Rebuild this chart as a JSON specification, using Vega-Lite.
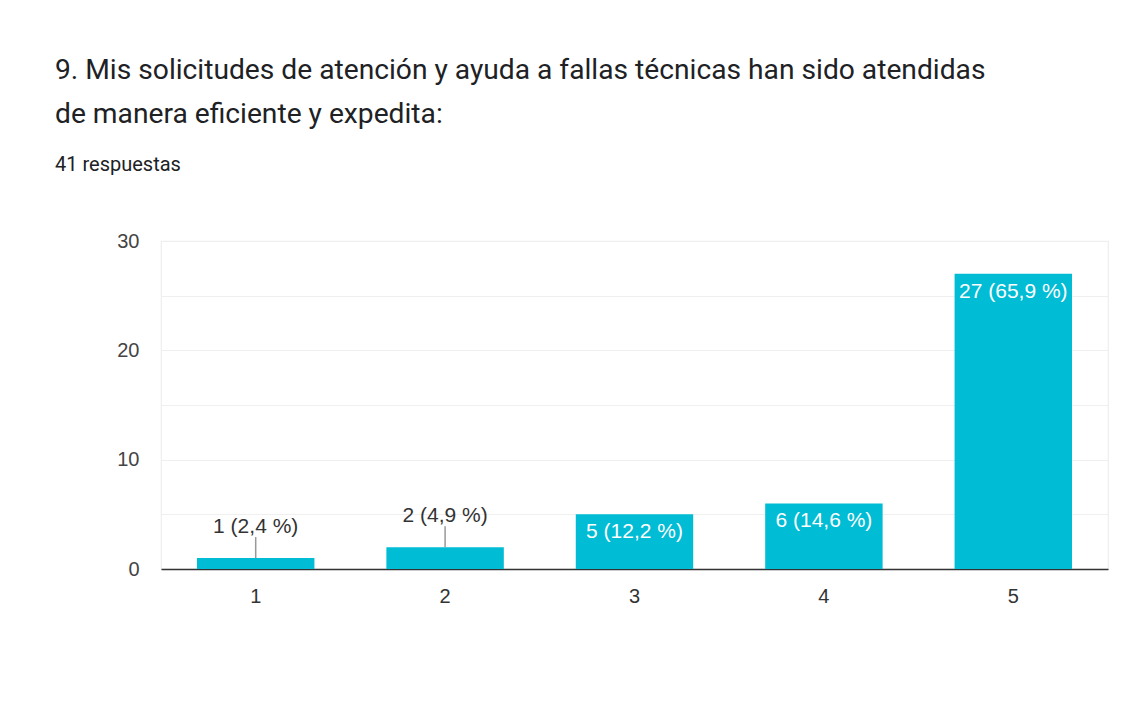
{
  "$schema": "https://vega.github.io/schema/vega-lite/v6.json",
  "autosize": "none",
  "width": 947,
  "height": 328,
  "padding": {"left": 161, "top": 241, "right": 23, "bottom": 133},
  "background": "white",
  "title": {
    "text": ["9. Mis solicitudes de atención y ayuda a fallas técnicas han sido atendidas", "de manera eficiente y expedita:"],
    "subtitle": "41 respuestas",
    "anchor": "start",
    "frame": "group",
    "dx": -106,
    "offset": 55,
    "font": "Roboto",
    "fontSize": 28.2,
    "fontWeight": "normal",
    "color": "#202124",
    "lineHeight": 44,
    "subtitleFont": "Roboto",
    "subtitleFontSize": 20,
    "subtitleColor": "#202124",
    "subtitlePadding": 26
  },
  "data": {
    "values": [
      {"option": "1", "count": 1, "label": "1 (2,4 %)"},
      {"option": "2", "count": 2, "label": "2 (4,9 %)"},
      {"option": "3", "count": 5, "label": "5 (12,2 %)"},
      {"option": "4", "count": 6, "label": "6 (14,6 %)"},
      {"option": "5", "count": 27, "label": "27 (65,9 %)"}
    ]
  },
  "encoding": {
    "x": {
      "field": "option", "type": "nominal", "sort": null,
      "scale": {"paddingInner": 0.38, "paddingOuter": 0.19},
      "axis": {
        "title": null, "labelAngle": 0, "ticks": false, "grid": false,
        "domainColor": "#333333", "domainWidth": 1.5,
        "labelFont": "Liberation Sans", "labelFontSize": 20, "labelColor": "#333333",
        "labelPadding": 17
      }
    },
    "y": {
      "field": "count", "type": "quantitative",
      "scale": {"domain": [0, 30], "nice": false},
      "axis": {
        "title": null, "values": [0, 5, 10, 15, 20, 25, 30],
        "labelExpr": "datum.value % 10 === 0 ? datum.label : ''",
        "domain": false, "ticks": false, "gridColor": "#efefef", "gridWidth": 1.2,
        "labelFont": "Liberation Sans", "labelFontSize": 20, "labelColor": "#444444",
        "labelPadding": 22
      }
    }
  },
  "layer": [
    {"mark": {"type": "bar", "color": "#00BCD4"}},
    {
      "transform": [{"filter": "datum.count < 5"}],
      "mark": {"type": "rule", "color": "#999999", "strokeWidth": 1.5, "y2Offset": -21},
      "encoding": {"y2": {"field": "count"}}
    },
    {
      "transform": [{"filter": "datum.count < 5"}],
      "mark": {"type": "text", "font": "Liberation Sans", "fontSize": 21, "color": "#333333", "baseline": "alphabetic", "dy": -25},
      "encoding": {"text": {"field": "label"}}
    },
    {
      "transform": [{"filter": "datum.count >= 5"}],
      "mark": {"type": "text", "font": "Liberation Sans", "fontSize": 21, "color": "white", "baseline": "alphabetic", "dy": 24},
      "encoding": {"text": {"field": "label"}}
    }
  ],
  "config": {
    "view": {"stroke": "#eeeeee", "strokeWidth": 1.2}
  }
}
